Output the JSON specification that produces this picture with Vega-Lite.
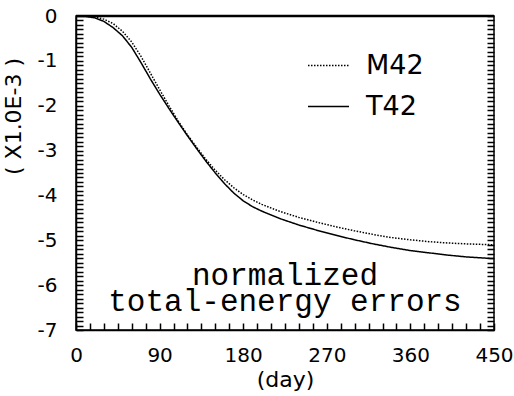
{
  "$schema": "https://vega.github.io/schema/vega-lite/v6.json",
  "width": 418,
  "height": 314,
  "autosize": {"type": "none"},
  "padding": {"left": 76, "top": 16, "right": 20, "bottom": 66},
  "background": "white",
  "config": {
    "view": {"stroke": "black", "strokeWidth": 1.5}
  },
  "datasets": {
    "curves": [
      {"model": "T42", "day": 0, "value": 0},
      {"model": "T42", "day": 10, "value": -0.01},
      {"model": "T42", "day": 20, "value": -0.04},
      {"model": "T42", "day": 30, "value": -0.12},
      {"model": "T42", "day": 40, "value": -0.26},
      {"model": "T42", "day": 50, "value": -0.44},
      {"model": "T42", "day": 60, "value": -0.7},
      {"model": "T42", "day": 70, "value": -1.04},
      {"model": "T42", "day": 80, "value": -1.4},
      {"model": "T42", "day": 90, "value": -1.74},
      {"model": "T42", "day": 100, "value": -2.06},
      {"model": "T42", "day": 110, "value": -2.37},
      {"model": "T42", "day": 120, "value": -2.67},
      {"model": "T42", "day": 130, "value": -2.96},
      {"model": "T42", "day": 140, "value": -3.24},
      {"model": "T42", "day": 150, "value": -3.5},
      {"model": "T42", "day": 160, "value": -3.74},
      {"model": "T42", "day": 170, "value": -3.95},
      {"model": "T42", "day": 180, "value": -4.12},
      {"model": "T42", "day": 190, "value": -4.25},
      {"model": "T42", "day": 200, "value": -4.35},
      {"model": "T42", "day": 220, "value": -4.52},
      {"model": "T42", "day": 240, "value": -4.66},
      {"model": "T42", "day": 260, "value": -4.78},
      {"model": "T42", "day": 280, "value": -4.89},
      {"model": "T42", "day": 300, "value": -4.99},
      {"model": "T42", "day": 320, "value": -5.08},
      {"model": "T42", "day": 340, "value": -5.16},
      {"model": "T42", "day": 360, "value": -5.23},
      {"model": "T42", "day": 380, "value": -5.28},
      {"model": "T42", "day": 400, "value": -5.33},
      {"model": "T42", "day": 420, "value": -5.37},
      {"model": "T42", "day": 450, "value": -5.41},
      {"model": "M42", "day": 0, "value": 0},
      {"model": "M42", "day": 10, "value": 0},
      {"model": "M42", "day": 20, "value": -0.02},
      {"model": "M42", "day": 30, "value": -0.07},
      {"model": "M42", "day": 40, "value": -0.17},
      {"model": "M42", "day": 50, "value": -0.34},
      {"model": "M42", "day": 60, "value": -0.58},
      {"model": "M42", "day": 70, "value": -0.9},
      {"model": "M42", "day": 80, "value": -1.27},
      {"model": "M42", "day": 90, "value": -1.64},
      {"model": "M42", "day": 100, "value": -2.0},
      {"model": "M42", "day": 110, "value": -2.34},
      {"model": "M42", "day": 120, "value": -2.65},
      {"model": "M42", "day": 130, "value": -2.93},
      {"model": "M42", "day": 140, "value": -3.2},
      {"model": "M42", "day": 150, "value": -3.44},
      {"model": "M42", "day": 160, "value": -3.65},
      {"model": "M42", "day": 170, "value": -3.83},
      {"model": "M42", "day": 180, "value": -3.98},
      {"model": "M42", "day": 190, "value": -4.1},
      {"model": "M42", "day": 200, "value": -4.2},
      {"model": "M42", "day": 220, "value": -4.36},
      {"model": "M42", "day": 240, "value": -4.49},
      {"model": "M42", "day": 260, "value": -4.6},
      {"model": "M42", "day": 280, "value": -4.7},
      {"model": "M42", "day": 300, "value": -4.79},
      {"model": "M42", "day": 320, "value": -4.87},
      {"model": "M42", "day": 340, "value": -4.94},
      {"model": "M42", "day": 360, "value": -4.99},
      {"model": "M42", "day": 380, "value": -5.03},
      {"model": "M42", "day": 400, "value": -5.06},
      {"model": "M42", "day": 420, "value": -5.08},
      {"model": "M42", "day": 450, "value": -5.1}
    ]
  },
  "layer": [
    {
      "data": {"name": "curves"},
      "transform": [{"filter": "datum.model == 'T42'"}],
      "mark": {"type": "line", "color": "black", "strokeWidth": 1.5},
      "encoding": {
        "x": {
          "field": "day", "type": "quantitative",
          "scale": {"domain": [0, 450], "nice": false},
          "axis": {
            "orient": "bottom", "title": "(day)", "titlePadding": 4, "labelOverlap": false, "labelFlush": false, "ticks": false, "grid": false,
            "values": [0, 90, 180, 270, 360, 450],
            "labelExpr": "'' + datum.value",
            "labelPadding": 15,
            "domainColor": "black", "domainWidth": 1.5, "labelColor": "black", "titleColor": "black",
            "labelFont": "DejaVu Sans", "titleFont": "DejaVu Sans", "labelFontSize": 20, "titleFontSize": 22, "titleFontWeight": "normal"
          }
        },
        "y": {
          "field": "value", "type": "quantitative",
          "scale": {"domain": [-7, 0], "nice": false},
          "axis": {
            "orient": "left", "title": "( X1.0E-3 )", "titleY": 100, "titlePadding": 12, "labelOverlap": false, "labelFlush": false, "ticks": false, "grid": false,
            "values": [-7, -6, -5, -4, -3, -2, -1, 0],
            "labelExpr": "'' + datum.value",
            "labelPadding": 19,
            "domainColor": "black", "domainWidth": 1.5, "labelColor": "black", "titleColor": "black",
            "labelFont": "DejaVu Sans", "titleFont": "DejaVu Sans", "labelFontSize": 20, "titleFontSize": 22, "titleFontWeight": "normal"
          }
        },
        "strokeDash": {
          "field": "model", "type": "nominal",
          "scale": {"domain": ["M42", "T42"], "range": [[1.5, 1.5], [1, 0]]},
          "legend": {
            "orient": "none", "legendX": 231, "legendY": 28, "title": null,
            "symbolType": "stroke", "symbolSize": 1681, "symbolStrokeWidth": 1.5, "symbolStrokeColor": "black",
            "labelFont": "DejaVu Sans", "labelFontSize": 27, "labelColor": "black", "labelOffset": 16, "rowPadding": 6
          }
        }
      }
    },
    {
      "data": {"name": "curves"},
      "transform": [{"filter": "datum.model == 'M42'"}],
      "mark": {"type": "line", "color": "black", "strokeWidth": 1.5},
      "encoding": {
        "x": {
          "field": "day", "type": "quantitative",
          "scale": {"domain": [0, 450], "nice": false},
          "axis": {
            "orient": "top", "offset": -314, "title": "", "labels": false, "domain": false, "gridOpacity": 0,
            "tickColor": "black", "tickWidth": 1.5,
            "values": [0,15,30,45,60,75,90,105,120,135,150,165,180,195,210,225,240,255,270,285,300,315,330,345,360,375,390,405,420,435,450],
            "tickSize": 7
          }
        },
        "y": {
          "field": "value", "type": "quantitative",
          "scale": {"domain": [-7, 0], "nice": false},
          "axis": {
            "orient": "right", "offset": -418, "title": "", "labels": false, "domain": false, "gridOpacity": 0,
            "tickColor": "black", "tickWidth": 1.5,
            "values": [-7,-6.9,-6.8,-6.7,-6.6,-6.5,-6.4,-6.3,-6.2,-6.1,-6,-5.9,-5.8,-5.7,-5.6,-5.5,-5.4,-5.3,-5.2,-5.1,-5,-4.9,-4.8,-4.7,-4.6,-4.5,-4.4,-4.3,-4.2,-4.1,-4,-3.9,-3.8,-3.7,-3.6,-3.5,-3.4,-3.3,-3.2,-3.1,-3,-2.9,-2.8,-2.7,-2.6,-2.5,-2.4,-2.3,-2.2,-2.1,-2,-1.9,-1.8,-1.7,-1.6,-1.5,-1.4,-1.3,-1.2,-1.1,-1,-0.9,-0.8,-0.7,-0.6,-0.5,-0.4,-0.3,-0.2,-0.1,0],
            "tickSize": 7
          }
        },
        "strokeDash": {
          "field": "model", "type": "nominal",
          "scale": {"domain": ["M42", "T42"], "range": [[1.5, 1.5], [1, 0]]},
          "legend": {
            "orient": "none", "legendX": 231, "legendY": 28, "title": null,
            "symbolType": "stroke", "symbolSize": 1681, "symbolStrokeWidth": 1.5, "symbolStrokeColor": "black",
            "labelFont": "DejaVu Sans", "labelFontSize": 27, "labelColor": "black", "labelOffset": 16, "rowPadding": 6
          }
        }
      }
    },
    {
      "data": {"name": "curves"},
      "mark": {"type": "rule", "color": "black", "strokeWidth": 2.5},
      "encoding": {
        "y": {
          "aggregate": "max", "field": "value", "type": "quantitative",
          "scale": {"domain": [-7, 0], "nice": false},
          "axis": {
            "orient": "left", "offset": -418, "title": "", "labels": false, "domain": false, "gridOpacity": 0,
            "tickColor": "black", "tickWidth": 1.5,
            "values": [-7,-6.9,-6.8,-6.7,-6.6,-6.5,-6.4,-6.3,-6.2,-6.1,-6,-5.9,-5.8,-5.7,-5.6,-5.5,-5.4,-5.3,-5.2,-5.1,-5,-4.9,-4.8,-4.7,-4.6,-4.5,-4.4,-4.3,-4.2,-4.1,-4,-3.9,-3.8,-3.7,-3.6,-3.5,-3.4,-3.3,-3.2,-3.1,-3,-2.9,-2.8,-2.7,-2.6,-2.5,-2.4,-2.3,-2.2,-2.1,-2,-1.9,-1.8,-1.7,-1.6,-1.5,-1.4,-1.3,-1.2,-1.1,-1,-0.9,-0.8,-0.7,-0.6,-0.5,-0.4,-0.3,-0.2,-0.1,0],
            "tickSize": 7
          }
        }
      }
    },
    {
      "data": {"values": [{}]},
      "mark": {"type": "text", "text": "normalized", "font": "Liberation Mono", "fontSize": 31, "color": "black", "align": "center", "baseline": "alphabetic"},
      "encoding": {
        "x": {"datum": 225, "type": "quantitative", "scale": {"domain": [0, 450], "nice": false}, "axis": null},
        "y": {"datum": -6.0, "type": "quantitative", "scale": {"domain": [-7, 0], "nice": false}, "axis": null}
      }
    },
    {
      "data": {"values": [{}]},
      "mark": {"type": "text", "text": "total-energy errors", "font": "Liberation Mono", "fontSize": 31, "color": "black", "align": "center", "baseline": "alphabetic"},
      "encoding": {
        "x": {"datum": 225, "type": "quantitative", "scale": {"domain": [0, 450], "nice": false}, "axis": null},
        "y": {"datum": -6.58, "type": "quantitative", "scale": {"domain": [-7, 0], "nice": false}, "axis": null}
      }
    }
  ],
  "resolve": {"scale": {"x": "independent", "y": "independent"}, "axis": {"x": "independent", "y": "independent"}}
}
